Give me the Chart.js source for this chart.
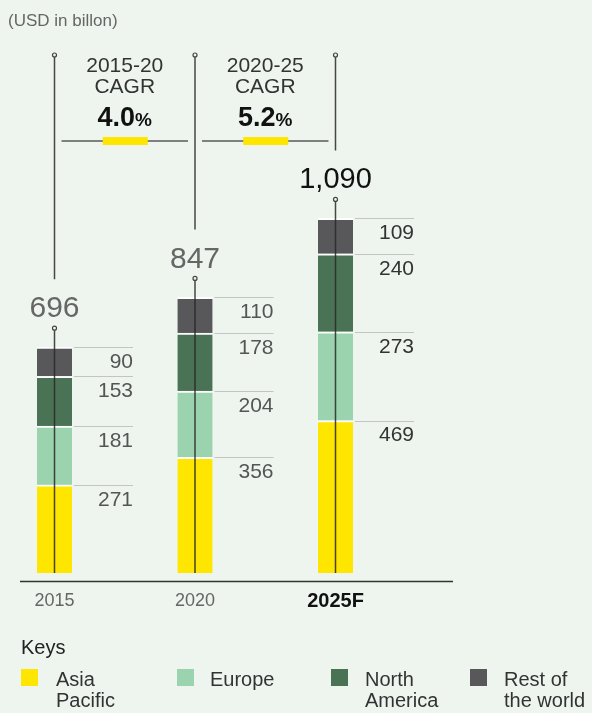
<!DOCTYPE html>
<html>
<head>
<meta charset="utf-8">
<script src="https://cdn.jsdelivr.net/npm/chart.js"></script>
<style>
  html, body { margin: 0; padding: 0; background: #EDF5EE; }
  canvas { display: block; }
</style>
</head>
<body>
<canvas id="myChart" width="592" height="713"></canvas>
<script>
// values (USD in billion)
var years = ['2015', '2020', '2025F'];
var asiaPacific = [271, 356, 469];
var europe = [181, 204, 273];
var northAmerica = [153, 178, 240];
var restOfWorld = [90, 110, 109];
var totals = ['696', '847', '1,090'];
var cagrPeriods = ['2015-20', '2020-25'];
var cagrRates = ['4.0', '5.2'];
var keyNames = [['Asia', 'Pacific'], ['Europe'], ['North', 'America'], ['Rest of', 'the world']];
var keyColors = ['#FFE600', '#9AD3AE', '#4A7355', '#58585A'];

var FONT = '"Liberation Sans", Arial, sans-serif';

var overlay = {
    id: 'overlay',
    afterDatasetsDraw: function (chart) {
        var ctx = chart.ctx;
        var metas = chart.data.datasets.map(function (d, i) { return chart.getDatasetMeta(i); });
        var base = chart.scales.y.getPixelForValue(0);
        var lineXs = [];
        ctx.save();
        for (var i = 0; i < years.length; i++) {
            var topEl = metas[metas.length - 1].data[i];
            var cx = topEl.x;
            var half = topEl.width / 2;
            var barTop = topEl.y;
            lineXs.push(cx);

            // thin guide lines + segment values
            for (var k = 0; k < metas.length; k++) {
                var el = metas[k].data[i];
                ctx.strokeStyle = '#c4c4c4';
                ctx.lineWidth = 1;
                ctx.beginPath();
                ctx.moveTo(cx + half + 2, Math.round(el.y) + 0.5);
                ctx.lineTo(cx + half + 61, Math.round(el.y) + 0.5);
                ctx.stroke();
                ctx.fillStyle = i == 2 ? '#333' : '#555';
                ctx.font = '21px ' + FONT;
                ctx.textAlign = 'right';
                ctx.textBaseline = 'middle';
                ctx.fillText(chart.data.datasets[k].data[i], cx + half + 61, el.y + 15);
            }

            // vertical line through the bar
            ctx.strokeStyle = 'rgba(40,40,40,0.85)';
            ctx.lineWidth = 1.5;
            ctx.beginPath();
            ctx.moveTo(cx, 56);
            ctx.lineTo(cx, barTop - 68);
            ctx.moveTo(cx, barTop - 17);
            ctx.lineTo(cx, base);
            ctx.stroke();
            // small dots
            [55, barTop - 19].forEach(function (dy) {
                ctx.beginPath();
                ctx.arc(cx, dy, 2, 0, Math.PI * 2);
                ctx.fillStyle = '#EDF5EE';
                ctx.fill();
                ctx.lineWidth = 1.2;
                ctx.strokeStyle = '#444';
                ctx.stroke();
            });

            // total
            ctx.fillStyle = i == 2 ? '#111' : '#666';
            ctx.font = (i == 2 ? '29px ' : '30px ') + FONT;
            ctx.textAlign = 'center';
            ctx.textBaseline = 'middle';
            ctx.fillText(totals[i], cx, barTop - 38);

            // category label
            ctx.fillStyle = i == 2 ? '#111' : '#666';
            ctx.font = (i == 2 ? 'bold 20px ' : '18px ') + FONT;
            ctx.fillText(years[i], cx, base + 28);
        }

        // axis line
        ctx.strokeStyle = '#333';
        ctx.lineWidth = 1.5;
        ctx.beginPath();
        ctx.moveTo(20, base + 8.5);
        ctx.lineTo(453, base + 8.5);
        ctx.stroke();

        // CAGR blocks between the vertical lines
        for (var j = 0; j < cagrPeriods.length; j++) {
            var mid = (lineXs[j] + lineXs[j + 1]) / 2;
            ctx.fillStyle = '#333';
            ctx.font = '21px ' + FONT;
            ctx.textAlign = 'center';
            ctx.fillText(cagrPeriods[j], mid, 66);
            ctx.fillText('CAGR', mid, 87);
            ctx.font = 'bold 27px ' + FONT;
            var w1 = ctx.measureText(cagrRates[j]).width;
            ctx.font = 'bold 19px ' + FONT;
            var w2 = ctx.measureText('%').width;
            var sx = mid - (w1 + w2) / 2;
            ctx.fillStyle = '#111';
            ctx.textAlign = 'left';
            ctx.textBaseline = 'alphabetic';
            ctx.font = 'bold 27px ' + FONT;
            ctx.fillText(cagrRates[j], sx, 126);
            ctx.font = 'bold 19px ' + FONT;
            ctx.fillText('%', sx + w1, 126);
            ctx.textBaseline = 'middle';

            ctx.strokeStyle = '#111';
            ctx.lineWidth = 1.2;
            ctx.beginPath();
            ctx.moveTo(lineXs[j] + 7, 141);
            ctx.lineTo(lineXs[j + 1] - 7, 141);
            ctx.stroke();
            ctx.fillStyle = '#FFE600';
            ctx.fillRect(mid - 22, 137, 45, 8);
        }
        ctx.restore();
    },
    afterDraw: function (chart) {
        var ctx = chart.ctx;
        ctx.save();
        ctx.textBaseline = 'middle';
        ctx.textAlign = 'left';
        ctx.fillStyle = '#666';
        ctx.font = '17px ' + FONT;
        ctx.fillText('(USD in billon)', 8, 21);

        ctx.fillStyle = '#222';
        ctx.font = '20px ' + FONT;
        ctx.fillText('Keys', 21, 648);

        var sqX = [21, 177, 331, 470];
        var txX = [56, 210, 365, 504];
        for (var i = 0; i < keyNames.length; i++) {
            ctx.fillStyle = keyColors[i];
            ctx.fillRect(sqX[i], 669, 17, 17);
            ctx.fillStyle = '#333';
            for (var r = 0; r < keyNames[i].length; r++) {
                ctx.fillText(keyNames[i][r], txX[i], 680 + r * 21);
            }
        }
        ctx.restore();
    }
};

var sep = 'rgba(255,255,255,0.85)';
var ctx = document.getElementById('myChart').getContext('2d');
var chart = new Chart(ctx, {
    type: 'bar',
    data: {
        labels: years,
        datasets: [
            { label: 'Asia Pacific', data: asiaPacific, backgroundColor: keyColors[0] },
            { label: 'Europe', data: europe, backgroundColor: keyColors[1] },
            { label: 'North America', data: northAmerica, backgroundColor: keyColors[2] },
            { label: 'Rest of the world', data: restOfWorld, backgroundColor: keyColors[3] }
        ].map(function (d) {
            d.borderColor = sep;
            d.borderWidth = { top: 2, right: 0, bottom: 0, left: 0 };
            d.borderSkipped = false;
            d.barThickness = 35;
            d.clip = false;
            return d;
        })
    },
    plugins: [overlay],
    options: {
        responsive: false,
        animation: false,
        devicePixelRatio: 1,
        layout: { padding: { left: 54.5, right: 256.5, top: 53, bottom: 140 } },
        plugins: { legend: { display: false }, tooltip: { enabled: false } },
        scales: {
            x: { display: false, stacked: true, offset: false },
            y: { display: false, stacked: true, min: 0, max: 1600 }
        }
    }
});
</script>
</body>
</html>
